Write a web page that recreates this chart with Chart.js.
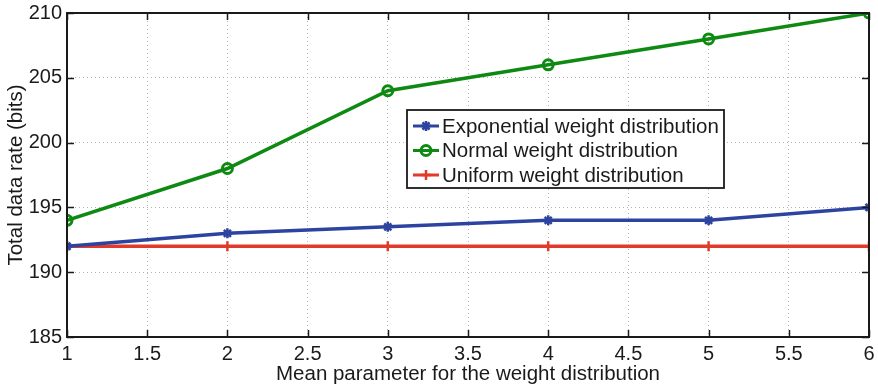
<!DOCTYPE html>
<html>
<head>
<meta charset="utf-8">
<script src="https://cdn.jsdelivr.net/npm/chart.js@4.4.1/dist/chart.umd.min.js"></script>
<style>
  html, body { margin: 0; padding: 0; background: #fff; }
  #wrap { width: 878px; height: 389px; }
</style>
</head>
<body>
<div id="wrap"><canvas id="c" width="878" height="389"></canvas></div>
<script>
// Mean parameter values (x) and total data rate per distribution (bits)
const meanParams = [1, 2, 3, 4, 5, 6];
const exponentialRate = [192, 193, 193.5, 194, 194, 195];
const normalRate = [194, 198, 204, 206, 208, 210];
const uniformRate = [192, 192, 192, 192, 192, 192];
const seriesLabels = ['Exponential weight distribution', 'Normal weight distribution', 'Uniform weight distribution'];
const xTickValues = [1, 1.5, 2, 2.5, 3, 3.5, 4, 4.5, 5, 5.5, 6];
const yTickValues = [185, 190, 195, 200, 205, 210];

const FONT = 'Liberation Sans, Arial, Helvetica, sans-serif';
const TICK_SIZE = 20;
const TEXT_SIZE = 20.5;
const INK = '#1a1a1a';
const toPoints = (ys) => meanParams.map((x, i) => ({ x, y: ys[i] }));

// Axes box, inward tick marks and an in-plot legend, MATLAB style
const framePlugin = {
  id: 'frame',
  afterDatasetsDraw(chart) {
    const { ctx, chartArea: a, scales } = chart;
    ctx.save();
    ctx.strokeStyle = INK;
    ctx.lineWidth = 1.5;
    ctx.setLineDash([]);
    const tl = 7;
    ctx.beginPath();
    xTickValues.forEach(v => {
      const px = Math.round(scales.x.getPixelForValue(v)) + 0.5;
      ctx.moveTo(px, a.bottom); ctx.lineTo(px, a.bottom - tl);
      ctx.moveTo(px, a.top); ctx.lineTo(px, a.top + tl);
    });
    yTickValues.forEach(v => {
      const py = Math.round(scales.y.getPixelForValue(v)) + 0.5;
      ctx.moveTo(a.left, py); ctx.lineTo(a.left + tl, py);
      ctx.moveTo(a.right, py); ctx.lineTo(a.right - tl, py);
    });
    ctx.stroke();
    ctx.lineWidth = 2;
    ctx.strokeRect(a.left, a.top, a.right - a.left, a.bottom - a.top);

    // legend
    const lx = 407, ly = 110, lw = 317, lh = 78;
    ctx.fillStyle = '#fff';
    ctx.fillRect(lx, ly, lw, lh);
    ctx.lineWidth = 1.8;
    ctx.strokeStyle = INK;
    ctx.strokeRect(lx, ly, lw, lh);
    ctx.textBaseline = 'middle';
    chart.data.datasets.forEach((ds, i) => {
      const cy = ly + 16 + i * 24.5;
      ctx.strokeStyle = ds.borderColor;
      ctx.lineWidth = 3;
      ctx.beginPath();
      ctx.moveTo(lx + 6, cy); ctx.lineTo(lx + 32, cy);
      ctx.stroke();
      ctx.fillStyle = ds.pointBackgroundColor;
      ctx.strokeStyle = ds.pointBorderColor;
      ctx.lineWidth = ds.pointBorderWidth;
      Chart.helpers.drawPoint(ctx, {
        pointStyle: ds.pointStyle, radius: ds.pointRadius, borderWidth: ds.pointBorderWidth
      }, lx + 19, cy);
      ctx.fillStyle = INK;
      ctx.font = TEXT_SIZE + 'px ' + FONT;
      ctx.fillText(ds.label, lx + 35, cy + 1);
    });
    ctx.restore();
  }
};

new Chart(document.getElementById('c'), {
  type: 'line',
  data: {
    datasets: [
      {
        label: seriesLabels[0], data: toPoints(exponentialRate),
        borderColor: '#2c44a0', backgroundColor: '#2c44a0', borderWidth: 3.5,
        pointStyle: 'star', pointRadius: 5, pointBorderWidth: 2.5,
        pointBackgroundColor: '#2c44a0', pointBorderColor: '#2c44a0'
      },
      {
        label: seriesLabels[1], data: toPoints(normalRate),
        borderColor: '#0e8a12', backgroundColor: '#ffffff', borderWidth: 3.5,
        pointStyle: 'circle', pointRadius: 5, pointBorderWidth: 3,
        pointBackgroundColor: 'rgba(255,255,255,0)', pointBorderColor: '#0e8a12'
      },
      {
        label: seriesLabels[2], data: toPoints(uniformRate),
        borderColor: '#e2392b', backgroundColor: '#e2392b', borderWidth: 3.5,
        pointStyle: 'cross', pointRadius: 5, pointBorderWidth: 2.5,
        pointBackgroundColor: '#e2392b', pointBorderColor: '#e2392b'
      }
    ]
  },
  options: {
    responsive: false,
    animation: false,
    layout: { padding: { left: 0, right: 9, top: 13, bottom: 0 } },
    plugins: { legend: { display: false }, tooltip: { enabled: false } },
    elements: { line: { tension: 0 } },
    scales: {
      x: {
        type: 'linear', min: 1, max: 6,
        afterFit: s => { s.height = 52; s.paddingLeft = 0; s.paddingRight = 0; },
        afterBuildTicks: s => { s.ticks = xTickValues.map(v => ({ value: v })); },
        ticks: { color: INK, font: { family: FONT, size: TICK_SIZE }, padding: 5, maxRotation: 0, autoSkip: false,
                 callback: v => String(v) },
        grid: { color: '#b4b4b4', lineWidth: 1, drawTicks: false },
        border: { display: false, dash: [1, 3] },
        title: { display: true, text: 'Mean parameter for the weight distribution', color: INK,
                 font: { family: FONT, size: TEXT_SIZE }, padding: { top: 0, bottom: 2 } }
      },
      y: {
        type: 'linear', min: 185, max: 210,
        afterFit: s => { s.width = 67; s.paddingTop = 0; s.paddingBottom = 0; },
        afterBuildTicks: s => { s.ticks = yTickValues.map(v => ({ value: v })); },
        ticks: { color: INK, font: { family: FONT, size: TICK_SIZE }, padding: 5,
                 callback: v => String(v) },
        grid: { color: '#b4b4b4', lineWidth: 1, drawTicks: false },
        border: { display: false, dash: [1, 3] },
        title: { display: true, text: 'Total data rate (bits)', color: INK,
                 font: { family: FONT, size: TEXT_SIZE }, padding: { top: 4, bottom: 0 } }
      }
    }
  },
  plugins: [framePlugin]
});
</script>
</body>
</html>
